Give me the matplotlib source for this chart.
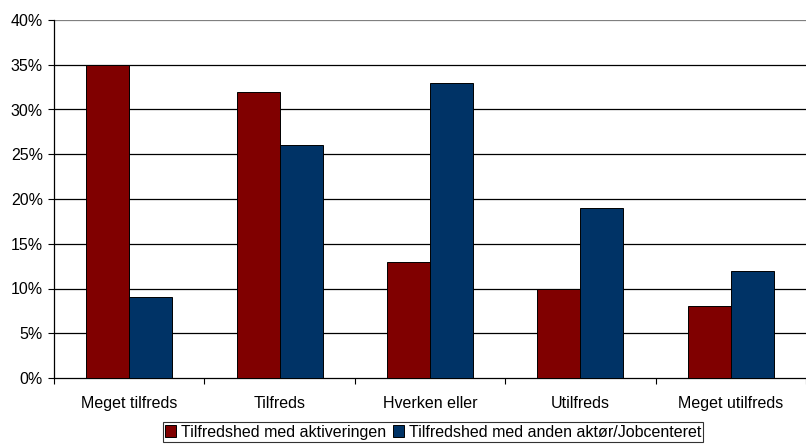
import matplotlib
matplotlib.use("Agg")
import matplotlib.pyplot as plt
from matplotlib.patches import Rectangle
import numpy as np

categories = ["Meget tilfreds", "Tilfreds", "Hverken eller", "Utilfreds", "Meget utilfreds"]
aktivering = [35, 32, 13, 10, 8]
anden_aktoer = [9, 26, 33, 19, 12]
series_names = ["Tilfredshed med aktiveringen", "Tilfredshed med anden aktør/Jobcenteret"]
yticks = [0, 5, 10, 15, 20, 25, 30, 35, 40]

plt.rcParams['font.family'] = ['Liberation Sans', 'DejaVu Sans']
plt.rcParams['font.size'] = 11.5

fig = plt.figure(figsize=(8.06, 4.44), dpi=100)
ax = fig.add_axes([54/806, 66/444, 1 - 54/806, (378-20)/444])

x = np.arange(len(categories))
w = 0.286
c1, c2 = "#800000", "#003366"
ax.bar(x - w/2, aktivering, w, color=c1, edgecolor="black", linewidth=0.7, zorder=3)
ax.bar(x + w/2, anden_aktoer, w, color=c2, edgecolor="black", linewidth=0.7, zorder=3)

ax.set_xlim(-0.5, len(categories) - 0.5)
ax.set_ylim(0, 40)
ax.set_yticks(yticks)
ax.set_yticklabels([f"{v}%" for v in yticks])
for v in yticks[1:]:
    ax.axhline(v, color="black" if v < 40 else "#808080", linewidth=0.9, zorder=1)

ax.set_xticks(np.arange(len(categories) + 1) - 0.5)
ax.set_xticklabels([])
ax.set_xticks(x, minor=True)
ax.set_xticklabels(categories, minor=True)
ax.tick_params(axis='x', which='minor', length=0, pad=13)
ax.tick_params(axis='x', which='major', length=4, direction='out', width=0.8)
ax.tick_params(axis='y', length=4, direction='out', width=0.8, pad=4)

for s in ["top", "right"]:
    ax.spines[s].set_visible(False)
ax.spines["left"].set_linewidth(0.9)
ax.spines["bottom"].set_linewidth(0.9)

handles = [Rectangle((0, 0), 1, 1, facecolor=c1, edgecolor="black", linewidth=0.7),
           Rectangle((0, 0), 1, 1, facecolor=c2, edgecolor="black", linewidth=0.7)]
leg = fig.legend(handles, series_names, loc="center", bbox_to_anchor=(433/806, 12/444),
                 ncol=2, frameon=True, fancybox=False, edgecolor="black",
                 handlelength=0.7, handleheight=0.7, handletextpad=0.3, columnspacing=0.4,
                 borderpad=0.15, borderaxespad=0, fontsize=11.5)
leg.get_frame().set_linewidth(0.8)

fig.savefig("out.png", dpi=100)
